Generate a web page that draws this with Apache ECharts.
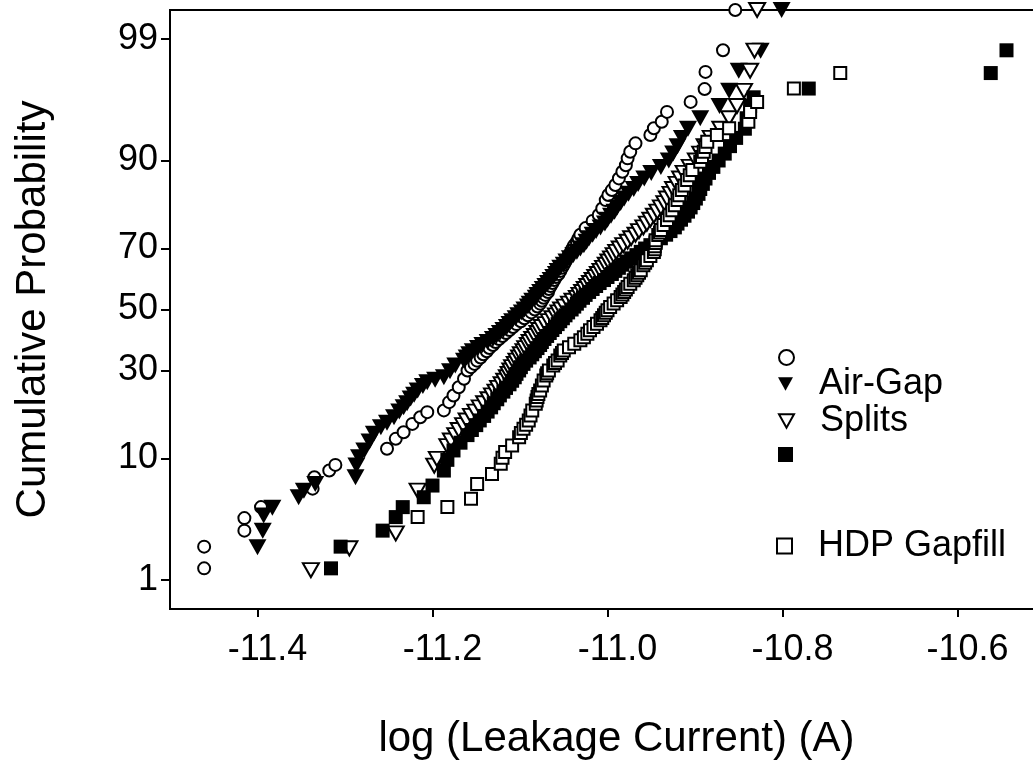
<!DOCTYPE html>
<html>
<head>
<meta charset="utf-8">
<title>Cumulative Probability</title>
<script src="https://cdn.jsdelivr.net/npm/echarts@6.0.0/dist/echarts.min.js"></script>
<style>
  html, body { margin: 0; padding: 0; background: #fff; }
  #chart { width: 1033px; height: 769px; }
</style>
</head>
<body>
<div id="chart"></div>
<script>
// each point: [log(leakage current), cumulative probability in %]
const airGapCircles = [
  [-11.461, 1.3], [-11.461, 2.07], [-11.415, 2.86], [-11.415, 3.64], [-11.396, 4.46], [-11.337, 6.17],
  [-11.335, 7.45], [-11.318, 8.3], [-11.311, 9.07], [-11.252, 11.55], [-11.242, 13.3], [-11.233, 14.56],
  [-11.223, 16.26], [-11.214, 17.7], [-11.206, 18.87], [-11.187, 19.27], [-11.181, 21.28], [-11.176, 22.99],
  [-11.170, 25.2], [-11.164, 27.57], [-11.160, 30], [-11.156, 31], [-11.152, 32], [-11.149, 33],
  [-11.145, 34], [-11.142, 35], [-11.138, 36], [-11.135, 37], [-11.131, 38], [-11.128, 39],
  [-11.124, 40], [-11.120, 41], [-11.116, 42], [-11.112, 43], [-11.108, 44], [-11.104, 45],
  [-11.099, 46], [-11.095, 47], [-11.091, 48], [-11.087, 49], [-11.083, 50], [-11.080, 51],
  [-11.077, 52], [-11.075, 53], [-11.073, 54], [-11.071, 55], [-11.068, 56], [-11.067, 57],
  [-11.065, 58], [-11.063, 59], [-11.061, 60], [-11.059, 61], [-11.056, 62], [-11.054, 63],
  [-11.052, 64], [-11.050, 65], [-11.048, 66], [-11.046, 67], [-11.044, 68], [-11.042, 69],
  [-11.040, 70], [-11.038, 71], [-11.035, 72], [-11.033, 73], [-11.031, 74], [-11.025, 75.8],
  [-11.017, 77.7], [-11.010, 79.2], [-11.006, 80.75], [-11.002, 82.66], [-10.999, 83.76], [-10.995, 84.78],
  [-10.991, 85.78], [-10.987, 87.02], [-10.983, 88.19], [-10.979, 89.27], [-10.977, 90.32], [-10.974, 91.26],
  [-10.968, 92.35], [-10.951, 93.33], [-10.947, 94.05], [-10.938, 94.68], [-10.932, 95.54], [-10.905, 96.29],
  [-10.889, 97.1], [-10.888, 97.95], [-10.868, 98.71], [-10.854, 99.5]
]

const airGapTriangles = [
  [-11.400, 2.04], [-11.394, 2.86], [-11.393, 3.82], [-11.383, 4.4], [-11.353, 5.32], [-11.347, 5.96],
  [-11.334, 6.68], [-11.288, 7.45], [-11.287, 9.0], [-11.284, 10.2], [-11.278, 11.27], [-11.272, 12.8],
  [-11.267, 14.24], [-11.259, 15.56], [-11.252, 16.5], [-11.244, 17.71], [-11.238, 19], [-11.233, 20.05],
  [-11.229, 21], [-11.225, 22.2], [-11.221, 23.2], [-11.217, 24.3], [-11.211, 25.5], [-11.206, 26.6],
  [-11.197, 27.3], [-11.187, 28.03], [-11.180, 29.8], [-11.174, 31.54], [-11.164, 33], [-11.161, 34],
  [-11.158, 35], [-11.154, 36], [-11.148, 37], [-11.143, 38], [-11.137, 39], [-11.131, 40],
  [-11.127, 41], [-11.123, 42], [-11.119, 43], [-11.115, 44], [-11.112, 45], [-11.109, 46],
  [-11.105, 47], [-11.102, 48], [-11.098, 49], [-11.095, 50], [-11.091, 51], [-11.089, 52],
  [-11.086, 53], [-11.082, 54], [-11.080, 55], [-11.077, 56], [-11.074, 57], [-11.071, 58],
  [-11.068, 59], [-11.065, 60], [-11.062, 61], [-11.059, 62], [-11.057, 63], [-11.054, 64],
  [-11.050, 65], [-11.047, 66], [-11.043, 67], [-11.039, 68], [-11.035, 69], [-11.031, 70],
  [-11.027, 71], [-11.024, 72], [-11.021, 73], [-11.017, 74], [-11.013, 75], [-11.008, 76],
  [-11.003, 77], [-11.000, 78], [-10.996, 79], [-10.992, 80], [-10.989, 81], [-10.985, 82],
  [-10.981, 83], [-10.976, 84], [-10.970, 85], [-10.965, 86], [-10.958, 87], [-10.950, 88],
  [-10.939, 89], [-10.930, 90], [-10.925, 91], [-10.920, 92], [-10.915, 93], [-10.908, 94],
  [-10.894, 95], [-10.872, 96], [-10.861, 97], [-10.850, 98], [-10.825, 98.7], [-10.801, 99.5]
]

const splitsTriangles = [
  [-11.339, 1.25], [-11.295, 2.0], [-11.242, 2.71], [-11.217, 5.96], [-11.198, 8.97], [-11.195, 9.95],
  [-11.183, 12], [-11.179, 13], [-11.174, 14], [-11.170, 15], [-11.165, 16], [-11.161, 17],
  [-11.156, 18], [-11.151, 19], [-11.146, 20], [-11.141, 21], [-11.136, 22], [-11.132, 23],
  [-11.128, 24], [-11.125, 25], [-11.121, 26], [-11.118, 27], [-11.115, 28], [-11.113, 29],
  [-11.111, 30], [-11.109, 31], [-11.106, 32], [-11.104, 33], [-11.101, 34], [-11.099, 35],
  [-11.096, 36], [-11.094, 37], [-11.091, 38], [-11.089, 39], [-11.086, 40], [-11.083, 41],
  [-11.080, 42], [-11.078, 43], [-11.075, 44], [-11.071, 45], [-11.067, 46], [-11.063, 47],
  [-11.059, 48], [-11.056, 49], [-11.053, 50], [-11.049, 51], [-11.044, 52], [-11.040, 53],
  [-11.035, 54], [-11.032, 55], [-11.029, 56], [-11.026, 57], [-11.023, 58], [-11.020, 59],
  [-11.017, 60], [-11.014, 61], [-11.011, 62], [-11.008, 63], [-11.005, 64], [-11.002, 65],
  [-10.999, 66], [-10.996, 67], [-10.993, 68], [-10.990, 69], [-10.986, 70], [-10.982, 71],
  [-10.977, 72], [-10.973, 73], [-10.968, 74], [-10.964, 75], [-10.959, 76], [-10.955, 77],
  [-10.951, 78], [-10.947, 79], [-10.943, 80], [-10.939, 81], [-10.935, 82], [-10.932, 83],
  [-10.928, 84], [-10.925, 85], [-10.921, 86], [-10.917, 87], [-10.913, 88], [-10.906, 89],
  [-10.899, 90], [-10.894, 91], [-10.889, 92], [-10.882, 93], [-10.871, 94], [-10.861, 95],
  [-10.852, 96], [-10.844, 97], [-10.837, 98], [-10.832, 98.7], [-10.829, 99.5]
]

const splitsSquares = [
  [-11.316, 1.3], [-11.305, 2.07], [-11.257, 2.86], [-11.242, 3.71], [-11.234, 4.46], [-11.210, 5.32],
  [-11.200, 6.5], [-11.187, 8.3], [-11.183, 9.8], [-11.176, 11.27], [-11.168, 12.6], [-11.160, 14],
  [-11.155, 15], [-11.150, 16], [-11.146, 17], [-11.141, 18], [-11.137, 19], [-11.133, 20],
  [-11.130, 21], [-11.126, 22], [-11.123, 23], [-11.119, 24], [-11.116, 25], [-11.112, 26],
  [-11.109, 27], [-11.106, 28], [-11.104, 29], [-11.101, 30], [-11.099, 31], [-11.096, 32],
  [-11.093, 33], [-11.089, 34], [-11.086, 35], [-11.083, 36], [-11.080, 37], [-11.077, 38],
  [-11.075, 39], [-11.072, 40], [-11.069, 41], [-11.066, 42], [-11.063, 43], [-11.060, 44],
  [-11.057, 45], [-11.054, 46], [-11.051, 47], [-11.048, 48], [-11.045, 49], [-11.041, 50],
  [-11.038, 51], [-11.035, 52], [-11.032, 53], [-11.028, 54], [-11.025, 55], [-11.021, 56],
  [-11.017, 57], [-11.013, 58], [-11.009, 59], [-11.004, 60], [-11.000, 61], [-10.995, 62],
  [-10.991, 63], [-10.987, 64], [-10.983, 65], [-10.978, 66], [-10.973, 67], [-10.967, 68],
  [-10.962, 69], [-10.957, 70], [-10.951, 71], [-10.945, 72], [-10.939, 73], [-10.933, 74],
  [-10.928, 75], [-10.923, 76], [-10.920, 77], [-10.916, 78], [-10.912, 79], [-10.908, 80],
  [-10.905, 81], [-10.902, 82], [-10.899, 83], [-10.896, 84], [-10.894, 85], [-10.891, 86],
  [-10.888, 87], [-10.884, 88], [-10.879, 89], [-10.873, 90], [-10.866, 91], [-10.860, 92],
  [-10.853, 93], [-10.843, 94], [-10.841, 95], [-10.837, 96], [-10.833, 96.6], [-10.770, 97.13],
  [-10.562, 97.9], [-10.544, 98.71]
]

const hdpSquares = [
  [-11.217, 3.71], [-11.183, 4.46], [-11.156, 5.17], [-11.149, 6.68], [-11.132, 7.87], [-11.122, 9.22],
  [-11.120, 10.1], [-11.117, 11.0], [-11.109, 12.09], [-11.101, 13.6], [-11.099, 14.4], [-11.096, 15.24],
  [-11.093, 16.1], [-11.090, 16.99], [-11.088, 18.1], [-11.086, 19.27], [-11.082, 20.89], [-11.081, 21.7],
  [-11.080, 22.6], [-11.079, 23.4], [-11.077, 24.3], [-11.075, 25.7], [-11.073, 27.09], [-11.070, 28.5],
  [-11.069, 29.2], [-11.067, 30], [-11.062, 31.5], [-11.060, 32.3], [-11.057, 33.08], [-11.054, 34.6],
  [-11.052, 35.4], [-11.050, 36.23], [-11.044, 37.3], [-11.038, 38.43], [-11.031, 39.53], [-11.027, 40.6],
  [-11.023, 41.77], [-11.020, 42.9], [-11.016, 44.0], [-11.012, 45.1], [-11.008, 46.28], [-11.006, 47.1],
  [-11.004, 48.0], [-11.002, 48.9], [-11.000, 49.72], [-10.997, 50.9], [-10.993, 52.03], [-10.989, 53.2],
  [-10.985, 54.3], [-10.983, 55.1], [-10.981, 56.0], [-10.979, 56.8], [-10.977, 57.7], [-10.974, 58.8],
  [-10.970, 59.93], [-10.968, 60.8], [-10.966, 61.6], [-10.964, 62.4], [-10.962, 63.25], [-10.959, 64.8],
  [-10.957, 65.6], [-10.955, 66.43], [-10.951, 67.7], [-10.947, 68.98], [-10.946, 69.8], [-10.946, 70.7],
  [-10.945, 71.6], [-10.945, 72.46], [-10.942, 73.9], [-10.940, 74.6], [-10.939, 75.26], [-10.936, 76.6],
  [-10.932, 77.95], [-10.929, 79.1], [-10.926, 80.35], [-10.923, 81.5], [-10.920, 82.66], [-10.918, 83.7],
  [-10.915, 84.78], [-10.912, 85.7], [-10.909, 86.71], [-10.906, 87.6], [-10.903, 88.47], [-10.894, 89.8],
  [-10.892, 90.5], [-10.890, 91.26], [-10.888, 91.9], [-10.886, 92.55], [-10.875, 93.33], [-10.861, 94.05],
  [-10.839, 94.68], [-10.837, 95.54], [-10.829, 96.29], [-10.787, 97.13], [-10.734, 97.9]
]

const probTicks = [1, 10, 30, 50, 70, 90, 99]
const xTicks = [-11.4, -11.2, -11.0, -10.8, -10.6]

// inverse normal cdf (Acklam), used for the probability axis
function probit (p) {
  const a = [-3.969683028665376e+01, 2.209460984245205e+02, -2.759285104469687e+02, 1.383577518672690e+02, -3.066479806614716e+01, 2.506628277459239e+00]
  const b = [-5.447609879822406e+01, 1.615858368580409e+02, -1.556989798598866e+02, 6.680131188771972e+01, -1.328068155288572e+01]
  const c = [-7.784894002430293e-03, -3.223964580411365e-01, -2.400758277161838e+00, -2.549732539343734e+00, 4.374664141464968e+00, 2.938163982698783e+00]
  const d = [7.784695709041462e-03, 3.224671290700398e-01, 2.445134137142996e+00, 3.754408661907416e+00]
  const pl = 0.02425
  let q, r
  if (p < pl) {
    q = Math.sqrt(-2 * Math.log(p))
    return (((((c[0] * q + c[1]) * q + c[2]) * q + c[3]) * q + c[4]) * q + c[5]) / ((((d[0] * q + d[1]) * q + d[2]) * q + d[3]) * q + 1)
  }
  if (p > 1 - pl) {
    q = Math.sqrt(-2 * Math.log(1 - p))
    return -(((((c[0] * q + c[1]) * q + c[2]) * q + c[3]) * q + c[4]) * q + c[5]) / ((((d[0] * q + d[1]) * q + d[2]) * q + d[3]) * q + 1)
  }
  q = p - 0.5
  r = q * q
  return (((((a[0] * r + a[1]) * r + a[2]) * r + a[3]) * r + a[4]) * r + a[5]) * q / (((((b[0] * r + b[1]) * r + b[2]) * r + b[3]) * r + b[4]) * r + 1)
}

function toPoints (list) {
  return list.map(function (item) {
    return [item[0], probit(item[1] / 100)]
  })
}

const probTickZ = probTicks.map(function (p) { return probit(p / 100) })

const font = "'Liberation Sans', Arial, sans-serif"
const downTri = 'path://M0,0L10,0L5,9Z'
const openStyle = { color: '#fff', borderColor: '#000', borderWidth: 2, opacity: 1 }
const filledStyle = { color: '#000', opacity: 1 }

function iconLegend (name, left, top, itemStyle, text) {
  return {
    data: [name],
    left: left,
    top: top,
    padding: 0,
    orient: 'vertical',
    selectedMode: false,
    itemWidth: 15,
    itemHeight: 15,
    itemStyle: itemStyle,
    formatter: function () { return text },
    textStyle: text
      ? { fontFamily: font, fontSize: 36, lineHeight: 40, color: '#000', padding: [0, 0, 0, 21] }
      : { fontSize: 1, lineHeight: 15 }
  }
}

const chart = echarts.init(document.getElementById('chart'))

const option = {
  animation: false,
  backgroundColor: '#fff',
  grid: {
    left: 170,
    top: 10,
    right: -12,
    bottom: 160,
    outerBoundsMode: 'none',
    show: true,
    borderColor: '#000',
    borderWidth: 2
  },
  legend: [
    iconLegend('Air-Gap (circle)', 778, 349, openStyle, ''),
    iconLegend('Air-Gap (triangle)', 778, 364, filledStyle, 'Air-Gap'),
    iconLegend('Splits (triangle)', 778, 401, openStyle, 'Splits'),
    iconLegend('Splits (square)', 778, 447, filledStyle, ''),
    iconLegend('HDP Gapfill', 776, 526, openStyle, 'HDP Gapfill')
  ],
  xAxis: {
    type: 'value',
    min: -11.5,
    max: -10.5,
    name: 'log (Leakage Current) (A)',
    nameLocation: 'middle',
    nameGap: 109,
    nameTextStyle: { fontFamily: font, fontSize: 42, color: '#000', padding: [0, 0, 0, 18] },
    splitLine: { show: false },
    axisLine: { onZero: false, lineStyle: { color: '#000', width: 2 } },
    axisTick: { customValues: xTicks, length: 8, lineStyle: { color: '#000', width: 2 } },
    axisLabel: {
      customValues: xTicks,
      margin: 23,
      padding: [0, 0, 0, 20],
      fontFamily: font,
      fontSize: 36,
      color: '#000',
      formatter: function (v) { return v.toFixed(1) }
    }
  },
  yAxis: {
    type: 'value',
    min: probit(0.005),
    max: probit(0.995),
    name: 'Cumulative Probability',
    nameLocation: 'middle',
    nameGap: 116,
    nameTextStyle: { fontFamily: font, fontSize: 42, color: '#000' },
    splitLine: { show: false },
    axisLine: { onZero: false, lineStyle: { color: '#000', width: 2 } },
    axisTick: { customValues: probTickZ, length: 9, lineStyle: { color: '#000', width: 2 } },
    axisLabel: {
      customValues: probTickZ,
      margin: 12,
      fontFamily: font,
      fontSize: 36,
      color: '#000',
      formatter: function (v) {
        const i = probTickZ.findIndex(function (z) { return Math.abs(z - v) < 1e-6 })
        return i < 0 ? '' : String(probTicks[i])
      }
    }
  },
  series: [{
    name: 'Air-Gap (circle)',
    type: 'scatter',
    clip: false,
    symbol: 'circle',
    symbolSize: 12,
    itemStyle: openStyle,
    data: toPoints(airGapCircles)
  }, {
    name: 'Air-Gap (triangle)',
    type: 'scatter',
    clip: false,
    symbol: downTri,
    symbolSize: [18, 16],
    itemStyle: filledStyle,
    data: toPoints(airGapTriangles)
  }, {
    name: 'Splits (triangle)',
    type: 'scatter',
    clip: false,
    symbol: downTri,
    symbolSize: [16, 14],
    itemStyle: openStyle,
    data: toPoints(splitsTriangles)
  }, {
    name: 'Splits (square)',
    type: 'scatter',
    clip: false,
    symbol: 'rect',
    symbolSize: 14,
    itemStyle: filledStyle,
    data: toPoints(splitsSquares)
  }, {
    name: 'HDP Gapfill',
    type: 'scatter',
    clip: false,
    symbol: 'rect',
    symbolSize: 12,
    itemStyle: openStyle,
    data: toPoints(hdpSquares)
  }]
}

chart.setOption(option)
</script>
</body>
</html>
